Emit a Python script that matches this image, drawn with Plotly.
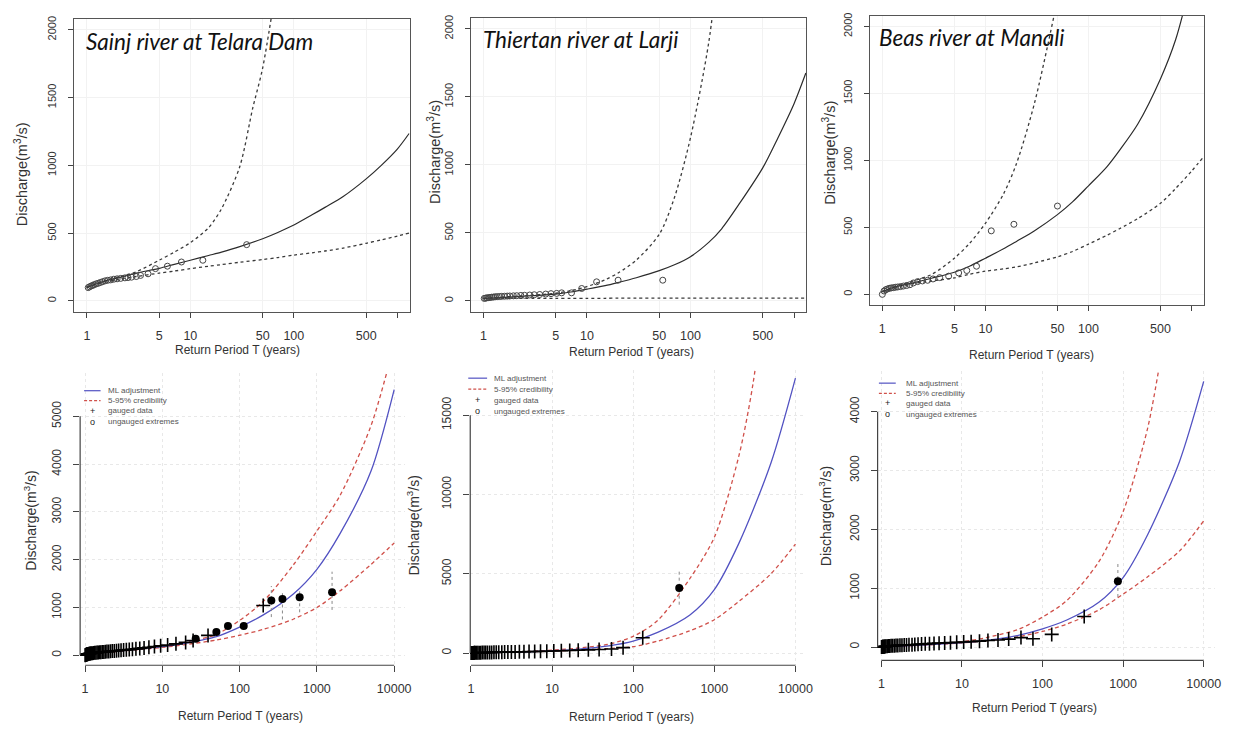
import math
import plotly.graph_objects as go

W, H = 1239, 729
OFF = 8  # default page margin of the html body
FW, FH = W - OFF, H - OFF
FONT = "Liberation Sans, Arial, sans-serif"

# ---------------- top row data (return period T in years, discharge m3/s) ----------------
top_T_ticks = [1, 5, 10, 50, 100, 500]
top_T_minor = [1000]
top_Q_ticks = [0, 500, 1000, 1500, 2000]

curve_T = [1, 1.2, 1.5, 2, 3, 5, 7, 10, 15, 20, 30, 50, 70, 100, 150, 200, 300, 500, 700, 1000, 1300]

sainj_fit = [100, 122, 148, 170, 205, 240, 270, 300, 335, 360, 400, 459, 505, 560, 635, 690, 770, 900, 1000, 1120, 1235]
sainj_upper_T = [1, 1.2, 1.5, 2, 3, 5, 7, 10, 15, 20, 30, 40, 50, 70]
sainj_upper = [100, 125, 150, 175, 215, 300, 360, 430, 540, 680, 990, 1420, 1720, 2400]
sainj_lower = [100, 120, 140, 158, 180, 205, 220, 238, 256, 268, 285, 305, 320, 338, 355, 368, 390, 425, 450, 478, 500]
sainj_obs_T = [1.03, 1.06, 1.1, 1.14, 1.18, 1.23, 1.29, 1.35, 1.42, 1.5, 1.59, 1.7, 1.82, 1.96, 2.12, 2.33, 2.5, 2.7, 3.0, 3.3, 3.9, 4.6, 6.0, 8.2, 13.2, 35]
sainj_obs_Q = [98, 104, 110, 115, 120, 126, 130, 136, 142, 148, 152, 155, 160, 163, 166, 170, 172, 175, 180, 188, 200, 238, 256, 287, 300, 415]

thiertan_fit = [17, 20, 24, 30, 38, 50, 65, 86, 112, 135, 170, 222, 265, 325, 430, 530, 720, 980, 1200, 1450, 1675]
thiertan_upper_T = [1, 1.2, 1.5, 2, 3, 5, 7, 10, 15, 20, 30, 50, 70, 100, 150, 200]
thiertan_upper = [20, 24, 28, 34, 42, 56, 75, 105, 155, 205, 300, 490, 760, 1200, 1900, 2700]
thiertan_lower = [18, 18, 18, 19, 19, 19, 19, 19, 19, 20, 20, 20, 20, 20, 20, 20, 20, 20, 20, 20, 20]
thiertan_obs_T = [1.02, 1.05, 1.08, 1.12, 1.16, 1.2, 1.25, 1.3, 1.36, 1.43, 1.5, 1.6, 1.7, 1.8, 1.95, 2.1, 2.3, 2.5, 2.8, 3.1, 3.5, 4.0, 4.5, 5.1, 5.7, 7.1, 8.9, 12.4, 20, 54]
thiertan_obs_Q = [18, 20, 22, 24, 25, 27, 28, 30, 31, 32, 33, 34, 35, 36, 37, 38, 40, 41, 43, 45, 47, 50, 53, 55, 59, 59, 91, 140, 152, 152]

beas_fit_T = [1, 1.2, 1.5, 2, 3, 5, 7, 10, 15, 20, 30, 50, 70, 100, 150, 200, 300, 500, 700, 1000]
beas_fit = [20, 45, 65, 86, 120, 165, 210, 270, 340, 395, 475, 595, 690, 810, 950, 1075, 1270, 1610, 1900, 2350]
beas_upper_T = [1, 1.2, 1.5, 2, 3, 5, 7, 10, 15, 20, 30, 50]
beas_upper = [20, 45, 70, 100, 148, 270, 380, 530, 750, 975, 1430, 2200]
beas_lower = [20, 40, 55, 80, 100, 123, 150, 173, 190, 205, 235, 280, 320, 375, 440, 490, 565, 680, 790, 920, 1024]
beas_obs_T = [1.0, 1.04, 1.08, 1.12, 1.17, 1.22, 1.28, 1.34, 1.41, 1.5, 1.6, 1.72, 1.85, 2.0, 2.2, 2.45, 2.75, 3.1, 3.6, 4.4, 5.5, 6.6, 8.2, 11.4, 18.9, 50]
beas_obs_Q = [0, 25, 35, 40, 45, 48, 50, 53, 55, 58, 62, 66, 72, 85, 95, 100, 105, 115, 125, 136, 160, 178, 210, 474, 523, 659]

# ---------------- bottom row data ----------------
bot_T_ticks = [1, 10, 100, 1000, 10000]
bot_T = [1, 2, 5, 10, 20, 50, 100, 200, 500, 1000, 2000, 5000, 10000]

bl_Q_ticks = [0, 1000, 2000, 3000, 4000, 5000]
bl_fit = [20, 70, 130, 180, 255, 390, 590, 840, 1290, 1800, 2550, 3850, 5560]
bl_upper = [25, 75, 140, 190, 275, 440, 730, 1120, 1900, 2600, 3350, 4800, 6500]
bl_lower = [15, 60, 120, 165, 225, 320, 420, 540, 760, 1000, 1350, 1900, 2350]
bl_gauged_T = [1.005, 1.01, 1.02, 1.03, 1.04, 1.05, 1.06, 1.07, 1.08, 1.09, 1.1, 1.12, 1.14, 1.16, 1.18, 1.21, 1.25, 1.29, 1.33, 1.38, 1.43, 1.48, 1.54, 1.6, 1.67, 1.75, 1.83, 1.92, 2.02, 2.13, 2.25, 2.39, 2.55, 2.72, 2.92, 3.15, 3.42, 3.73, 4.1, 4.55, 5.1, 5.8, 6.7, 7.9, 9.5, 11.7, 15, 20, 25, 39, 202]
bl_gauged_Q = [2, 5, 8, 12, 15, 18, 20, 22, 25, 27, 28, 32, 35, 38, 40, 42, 45, 48, 52, 55, 58, 60, 63, 66, 70, 72, 75, 78, 82, 85, 88, 92, 96, 100, 105, 110, 115, 120, 128, 135, 145, 155, 170, 185, 200, 215, 240, 270, 310, 417, 1042]
bl_extreme_T = [27, 50, 70.6, 113, 257, 358, 598, 1571]
bl_extreme_Q = [347, 486, 611, 611, 1146, 1180, 1215, 1320]
bl_extreme_lo = [347, 486, 611, 611, 800, 750, 900, 950]
bl_extreme_hi = [347, 486, 611, 611, 1450, 1300, 1350, 1750]

bm_Q_ticks = [0, 5000, 10000, 15000]
bm_fit = [5, 30, 80, 140, 230, 450, 750, 1300, 2400, 4000, 6900, 12000, 17340]
bm_upper_T = [1, 2, 5, 10, 20, 50, 100, 200, 500, 1000, 2000, 3000, 5000]
bm_upper = [10, 45, 100, 180, 300, 560, 1050, 2050, 4700, 7300, 12400, 17000, 26000]
bm_lower = [0, 25, 70, 120, 180, 280, 400, 750, 1400, 2100, 3250, 5000, 6870]
bm_gauged_T = [1.005, 1.01, 1.02, 1.03, 1.04, 1.05, 1.065, 1.08, 1.095, 1.11, 1.14, 1.18, 1.22, 1.27, 1.32, 1.38, 1.45, 1.52, 1.6, 1.7, 1.8, 1.92, 2.05, 2.2, 2.4, 2.6, 2.85, 3.15, 3.5, 3.95, 4.5, 5.2, 6.1, 7.2, 8.6, 10.5, 13, 16.5, 21, 28, 38, 54, 75, 131]
bm_gauged_Q = [0, 2, 3, 4, 5, 6, 7, 8, 9, 10, 12, 15, 18, 20, 22, 25, 28, 30, 33, 36, 40, 42, 45, 48, 52, 56, 60, 65, 70, 75, 80, 88, 95, 105, 115, 130, 145, 160, 180, 200, 220, 250, 339, 967]
bm_extreme_T = [369]
bm_extreme_Q = [4108]
bm_extreme_lo = [3050]
bm_extreme_hi = [5250]

br_Q_ticks = [0, 1000, 2000, 3000, 4000]
br_fit = [5, 20, 50, 75, 115, 200, 310, 460, 760, 1180, 1900, 3150, 4513]
br_upper_T = [1, 2, 5, 10, 20, 50, 100, 200, 500, 1000, 2000, 3000]
br_upper = [5, 22, 55, 90, 160, 300, 510, 790, 1450, 2300, 3700, 5000]
br_lower = [5, 18, 45, 70, 105, 175, 265, 390, 630, 900, 1190, 1630, 2144]
br_gauged_T = [1.005, 1.01, 1.02, 1.03, 1.04, 1.05, 1.065, 1.08, 1.095, 1.11, 1.14, 1.18, 1.22, 1.27, 1.32, 1.38, 1.45, 1.52, 1.6, 1.7, 1.8, 1.92, 2.05, 2.2, 2.4, 2.6, 2.85, 3.15, 3.5, 3.95, 4.5, 5.2, 6.1, 7.2, 8.6, 10.5, 13, 16.5, 21, 28, 38, 54, 76, 130, 329]
br_gauged_Q = [0, 1, 2, 3, 4, 5, 6, 7, 8, 10, 12, 14, 16, 18, 20, 22, 24, 26, 28, 30, 32, 34, 36, 38, 40, 43, 46, 50, 54, 58, 62, 66, 70, 75, 80, 85, 92, 100, 110, 120, 135, 160, 142, 215, 519]
br_extreme_T = [861]
br_extreme_Q = [1117]
br_extreme_lo = [850]
br_extreme_hi = [1420]

titles = ["Sainj river at Telara Dam", "Thiertan river at Larji", "Beas river at Manali"]
legend_labels = ["ML adjustment", "5-95% credibility", "gauged data", "ungauged extremes"]
x_title = "Return Period T (years)"
y_title = "Discharge(m<sup>3</sup>/s)"


# ---------------- layout geometry (page pixels -> paper fractions) ----------------
def fx(px):
    return (px - OFF) / FW


def fy(py):
    return 1 - (py - OFF) / FH


fig = go.Figure()
layout = dict(width=FW, height=FH, margin=dict(l=0, r=0, t=0, b=0),
              paper_bgcolor="white", plot_bgcolor="white", showlegend=False,
              font=dict(family=FONT, color="#333"))
shapes = []
annotations = []


def names(n):
    s = "" if n == 1 else str(n)
    return "xaxis" + s, "yaxis" + s, "x" + s, "y" + s


TOP_LINE = "#2b2b2b"
TOP_DASH = "#3a3a3a"
SPL = dict(shape="spline", smoothing=0.8)

top_panels = [
    (1, (72, 410, 16, 310), sainj_fit, curve_T, (sainj_upper_T, sainj_upper), (curve_T, sainj_lower), (sainj_obs_T, sainj_obs_Q)),
    (2, (471.7, 810, 15, 310), thiertan_fit, curve_T, (thiertan_upper_T, thiertan_upper), (curve_T, thiertan_lower), (thiertan_obs_T, thiertan_obs_Q)),
    (3, (874, 1210.7, 12.7, 303.3), beas_fit, beas_fit_T, (beas_upper_T, beas_upper), (curve_T, beas_lower), (beas_obs_T, beas_obs_Q)),
]

for n, (x0, x1, y0, y1), fit, fitT, upper, lower, obs in top_panels:
    xa, ya, xr, yr = names(n)
    layout[xa] = dict(domain=[fx(x0), fx(x1)], type="log", range=[-0.12, 3.12], anchor=yr,
                      tickvals=top_T_ticks, ticktext=[str(t) for t in top_T_ticks],
                      ticks="outside", ticklen=5,
                      minor=dict(tickvals=top_T_minor, ticks="outside", ticklen=5, tickcolor="#444", showgrid=False),
                      tickcolor="#444", showline=True, mirror=True, linecolor="#555", linewidth=1,
                      showgrid=True, gridcolor="#f2f2f2", zeroline=False,
                      tickfont=dict(size=12.5, color="#333"), ticklabelstandoff=7)
    layout[ya] = dict(domain=[fy(y1), fy(y0)], range=[-80, 2080], anchor=xr,
                      tickvals=top_Q_ticks, tickformat="d", tickangle=-90, ticks="outside", ticklen=5,
                      tickcolor="#444", showline=True, mirror=True, linecolor="#555", linewidth=1,
                      showgrid=True, gridcolor="#f2f2f2", zeroline=False,
                      tickfont=dict(size=11, color="#333"), ticklabelstandoff=8)
    fig.add_trace(go.Scatter(x=upper[0], y=upper[1], mode="lines", xaxis=xr, yaxis=yr,
                             line=dict(color=TOP_DASH, width=1.3, dash="3px,3px", **SPL)))
    fig.add_trace(go.Scatter(x=lower[0], y=lower[1], mode="lines", xaxis=xr, yaxis=yr,
                             line=dict(color=TOP_DASH, width=1.3, dash="3px,3px", **SPL)))
    fig.add_trace(go.Scatter(x=fitT, y=fit, mode="lines", xaxis=xr, yaxis=yr,
                             line=dict(color=TOP_LINE, width=1.2, **SPL)))
    fig.add_trace(go.Scatter(x=obs[0], y=obs[1], mode="markers", xaxis=xr, yaxis=yr,
                             marker=dict(symbol="circle-open", size=6, color="#444", line=dict(width=1))))

# titles and axis labels for top row
title_pos = [(82, 39), (481.7, 37), (881, 35)]
for (px, py), t in zip(title_pos, titles):
    annotations.append(dict(text="<i>" + t + "</i>", x=fx(px), y=fy(py), xref="paper", yref="paper",
                            xanchor="left", yanchor="middle", showarrow=False,
                            font=dict(family="Lato, Open Sans, sans-serif", size=22.5, color="#111")))

for px, py in [(236, 348), (634, 350), (1037, 353)]:
    annotations.append(dict(text=x_title, x=fx(px), y=fy(py), xref="paper", yref="paper",
                            xanchor="center", yanchor="middle", showarrow=False,
                            font=dict(size=12, color="#333")))
for px, py in [(18, 172), (435, 150), (833, 150)]:
    annotations.append(dict(text=y_title, x=fx(px), y=fy(py), xref="paper", yref="paper",
                            xanchor="center", yanchor="middle", showarrow=False, textangle=-90,
                            font=dict(size=14.5, color="#333")))

# ---------------- bottom row ----------------
BLUE = "#5252c2"
RED = "#d0504a"

bottom_panels = [
    (4, (77.7, 405, 372, 665), (-0.064, 4.137), (-208, 5896), bl_Q_ticks, bl_fit, (bot_T, bl_upper), bl_lower,
     (bl_gauged_T, bl_gauged_Q), (bl_extreme_T, bl_extreme_Q, bl_extreme_lo, bl_extreme_hi)),
    (5, (471, 810, 368, 665), (-0.009, 4.136), (-773, 17883), bm_Q_ticks, bm_fit, (bm_upper_T, bm_upper), bm_lower,
     (bm_gauged_T, bm_gauged_Q), (bm_extreme_T, bm_extreme_Q, bm_extreme_lo, bm_extreme_hi)),
    (6, (881.7, 1222, 370, 660), (-0.047, 4.142), (-225, 4682), br_Q_ticks, br_fit, (br_upper_T, br_upper), br_lower,
     (br_gauged_T, br_gauged_Q), (br_extreme_T, br_extreme_Q, br_extreme_lo, br_extreme_hi)),
]

for n, (x0, x1, y0, y1), xrng, yrng, qticks, fit, upper, lower, gauged, ext in bottom_panels:
    xa, ya, xr, yr = names(n)
    layout[xa] = dict(domain=[fx(x0), fx(x1)], type="log", range=list(xrng), anchor=yr,
                      tickvals=bot_T_ticks, ticktext=[str(t) for t in bot_T_ticks],
                      ticks="outside", ticklen=6,
                      tickcolor="#444", showline=False, showgrid=True, gridcolor="#e8e8e8",
                      griddash="dot", zeroline=False, tickfont=dict(size=12.5, color="#333"),
                      ticklabelstandoff=6)
    layout[ya] = dict(domain=[fy(y1), fy(y0)], range=list(yrng), anchor=xr,
                      tickvals=qticks, tickformat="d", tickangle=-90, ticks="outside", ticklen=6,
                      tickcolor="#444", showline=False, showgrid=True, gridcolor="#e8e8e8",
                      griddash="dot", zeroline=False, tickfont=dict(size=12, color="#333"),
                      ticklabelstandoff=7)
    span = xrng[1] - xrng[0]
    f0 = (math.log10(bot_T_ticks[0]) - xrng[0]) / span
    f1 = (math.log10(bot_T_ticks[-1]) - xrng[0]) / span
    shapes.append(dict(type="line", xref=xr + " domain", yref=yr + " domain", x0=f0, x1=f1, y0=0, y1=0,
                       line=dict(color="#444", width=1.2)))
    shapes.append(dict(type="line", xref=xr + " domain", yref=yr, x0=0, x1=0, y0=qticks[0], y1=qticks[-1],
                       line=dict(color="#444", width=1.2)))

    fig.add_trace(go.Scatter(x=bot_T, y=lower, mode="lines", xaxis=xr, yaxis=yr,
                             line=dict(color=RED, width=1.3, dash="4px,3px", **SPL)))
    fig.add_trace(go.Scatter(x=upper[0], y=upper[1], mode="lines", xaxis=xr, yaxis=yr,
                             line=dict(color=RED, width=1.3, dash="4px,3px", **SPL)))
    fig.add_trace(go.Scatter(x=bot_T, y=fit, mode="lines", xaxis=xr, yaxis=yr,
                             line=dict(color=BLUE, width=1.3, **SPL)))
    # dotted uncertainty bars of ungauged extremes
    ex, ey = [], []
    for t, lo, hi in zip(ext[0], ext[2], ext[3]):
        if hi > lo:
            ex += [t, t, None]
            ey += [lo, hi, None]
    if ex:
        fig.add_trace(go.Scatter(x=ex, y=ey, mode="lines", xaxis=xr, yaxis=yr,
                                 line=dict(color="#888", width=1, dash="dot")))
    fig.add_trace(go.Scatter(x=gauged[0], y=gauged[1], mode="markers", xaxis=xr, yaxis=yr,
                             marker=dict(symbol="cross-thin", size=10, color="black",
                                         line=dict(width=1.6, color="black"))))
    fig.add_trace(go.Scatter(x=ext[0], y=ext[1], mode="markers", xaxis=xr, yaxis=yr,
                             marker=dict(symbol="circle", size=8, color="black")))

for px, py in [(239, 716), (634, 717), (1040, 708)]:
    annotations.append(dict(text=x_title, x=fx(px), y=fy(py), xref="paper", yref="paper",
                            xanchor="center", yanchor="middle", showarrow=False,
                            font=dict(size=12, color="#333")))
for px, py in [(27, 520), (413, 525), (829, 515)]:
    annotations.append(dict(text=y_title, x=fx(px), y=fy(py), xref="paper", yref="paper",
                            xanchor="center", yanchor="middle", showarrow=False, textangle=-90,
                            font=dict(size=14, color="#333")))

# in-plot legends (R style, drawn as text + small line samples)
legend_geom = [
    ((81.7, 98.3), 103.3, [389.3, 399.3, 409.5, 420.5]),
    ((469, 488), 493.3, [376.7, 387.7, 398.7, 409.7]),
    ((883, 900), 908.3, [381.7, 392, 402, 412.7]),
]
for (sx0, sx1), tx, rows in legend_geom:
    shapes.append(dict(type="line", xref="paper", yref="paper", x0=fx(sx0), x1=fx(sx1),
                       y0=fy(rows[0]), y1=fy(rows[0]), line=dict(color=BLUE, width=1.2)))
    shapes.append(dict(type="line", xref="paper", yref="paper", x0=fx(sx0), x1=fx(sx1),
                       y0=fy(rows[1]), y1=fy(rows[1]), line=dict(color=RED, width=1.2, dash="3px,2px")))
    sc = (sx0 + sx1) / 2
    for sym, r in [("+", rows[2]), ("o", rows[3])]:
        annotations.append(dict(text=sym, x=fx(sc), y=fy(r), xref="paper", yref="paper",
                                xanchor="center", yanchor="middle", showarrow=False,
                                font=dict(size=9, color="#222")))
    for lab, r in zip(legend_labels, rows):
        annotations.append(dict(text=lab, x=fx(tx), y=fy(r), xref="paper", yref="paper",
                                xanchor="left", yanchor="middle", showarrow=False,
                                font=dict(size=8, color="#555")))

layout["shapes"] = shapes
layout["annotations"] = annotations
fig.update_layout(**layout)
fig.write_html("out.html")
